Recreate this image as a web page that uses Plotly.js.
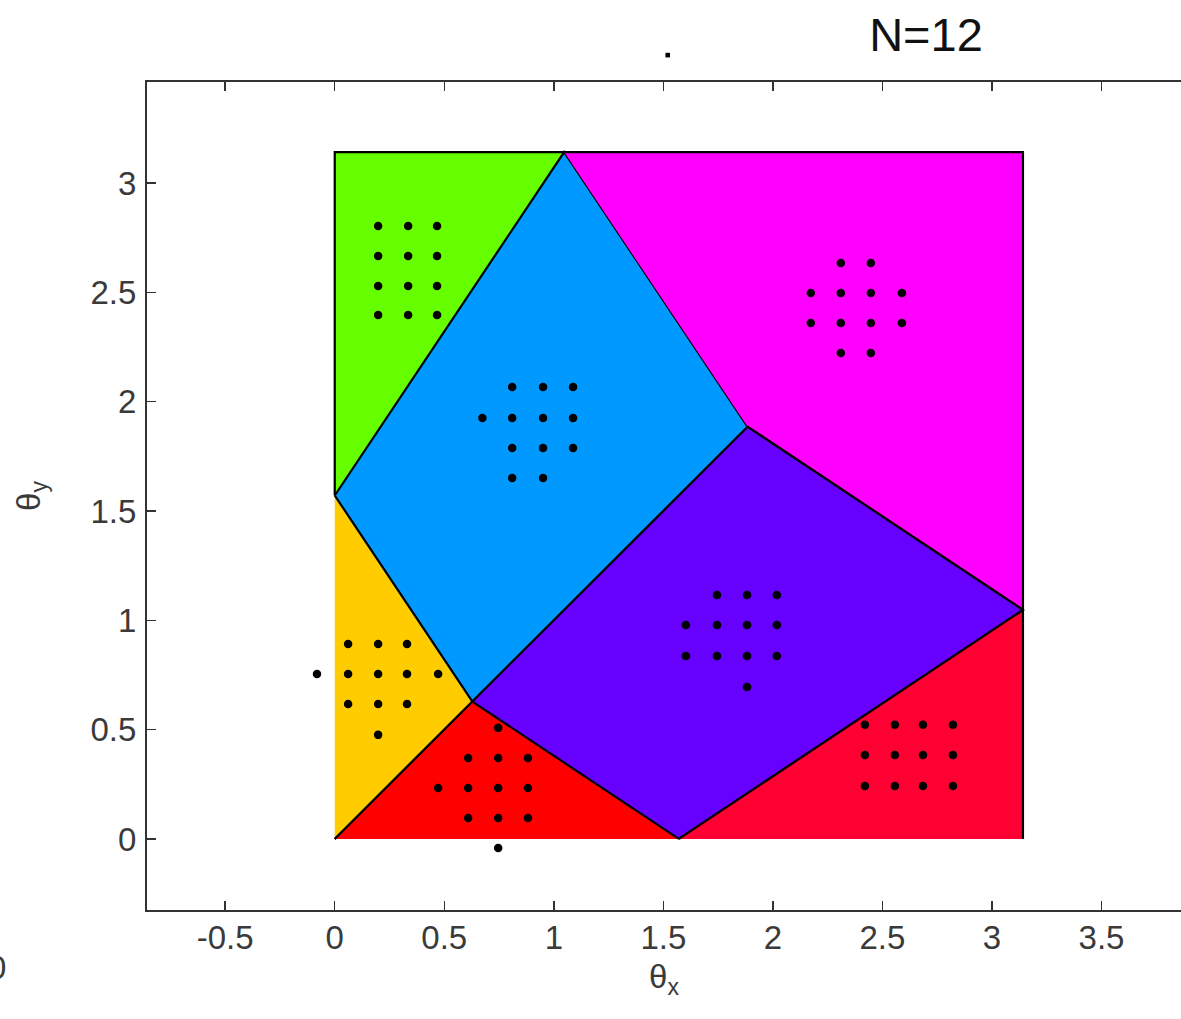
<!DOCTYPE html>
<html>
<head>
<meta charset="utf-8">
<script src="https://cdn.plot.ly/plotly-3.0.1.min.js"></script>
<style>
  html, body { margin: 0; padding: 0; background: #fff; overflow: hidden; }
  #plot { width: 1181px; height: 1019px; }
</style>
</head>
<body>
<div id="plot"></div>
<script>
const PI = Math.PI;

// Partition of the [0, pi] x [0, pi] square into regions (vertex lists)
const greenX   = [0, 0, PI / 3];
const greenY   = [PI / 2, PI, PI];
const blueX    = [0, PI / 3, 0.6 * PI, 0.2 * PI];
const blueY    = [PI / 2, PI, 0.6 * PI, 0.2 * PI];
const magentaX = [PI / 3, PI, PI, 0.6 * PI];
const magentaY = [PI, PI, PI / 3, 0.6 * PI];
const purpleX  = [0.2 * PI, 0.6 * PI, PI, PI / 2];
const purpleY  = [0.2 * PI, 0.6 * PI, PI / 3, 0];
const yellowX  = [0, 0.2 * PI, 0];
const yellowY  = [PI / 2, 0.2 * PI, 0];
const redX     = [0, 0.2 * PI, PI / 2];
const redY     = [0, 0.2 * PI, 0];
const crimsonX = [PI / 2, PI, PI];
const crimsonY = [0, PI / 3, 0];

// Sample points
const greenPtsX = [0.198, 0.335, 0.467, 0.198, 0.335, 0.467, 0.198, 0.335, 0.467, 0.198, 0.335, 0.467];
const greenPtsY = [2.803, 2.803, 2.803, 2.666, 2.666, 2.666, 2.529, 2.529, 2.529, 2.396, 2.396, 2.396];

const bluePtsX = [0.810, 0.951, 1.088, 0.674, 0.810, 0.951, 1.088, 0.810, 0.951, 1.088, 0.810, 0.951];
const bluePtsY = [2.067, 2.067, 2.067, 1.925, 1.925, 1.925, 1.925, 1.788, 1.788, 1.788, 1.651, 1.651];

const magPtsX = [2.310, 2.447, 2.173, 2.310, 2.447, 2.589, 2.173, 2.310, 2.447, 2.589, 2.310, 2.447];
const magPtsY = [2.634, 2.634, 2.497, 2.497, 2.497, 2.497, 2.360, 2.360, 2.360, 2.360, 2.223, 2.223];

const purPtsX = [1.745, 1.882, 2.018, 1.603, 1.745, 1.882, 2.018, 1.603, 1.745, 1.882, 2.018, 1.882];
const purPtsY = [1.116, 1.116, 1.116, 0.979, 0.979, 0.979, 0.979, 0.837, 0.837, 0.837, 0.837, 0.695];

const yelPtsX = [0.061, 0.198, 0.330, -0.081, 0.061, 0.198, 0.330, 0.472, 0.061, 0.198, 0.330, 0.198];
const yelPtsY = [0.892, 0.892, 0.892, 0.754, 0.754, 0.754, 0.754, 0.754, 0.617, 0.617, 0.617, 0.476];

const redPtsX = [0.746, 0.609, 0.746, 0.882, 0.472, 0.609, 0.746, 0.882, 0.609, 0.746, 0.882, 0.746];
const redPtsY = [0.508, 0.370, 0.370, 0.370, 0.233, 0.233, 0.233, 0.233, 0.096, 0.096, 0.096, -0.041];

const crimPtsX = [2.420, 2.557, 2.685, 2.822, 2.420, 2.557, 2.685, 2.822, 2.420, 2.557, 2.685, 2.822];
const crimPtsY = [0.522, 0.522, 0.522, 0.522, 0.384, 0.384, 0.384, 0.384, 0.242, 0.242, 0.242, 0.242];

// Lone point above the axes box
const strayX = 1.52;
const strayY = 3.585;

// Axis ranges and ticks
const xRange = [-0.857, 3.863];
const yRange = [-0.325, 3.462];
const tickValsX = [-0.5, 0, 0.5, 1, 1.5, 2, 2.5, 3, 3.5];
const tickTextX = ['-0.5', '0', '0.5', '1', '1.5', '2', '2.5', '3', '3.5'];
const tickValsY = [0, 0.5, 1, 1.5, 2, 2.5, 3];
const tickTextY = ['0', '0.5', '1', '1.5', '2', '2.5', '3'];

const FONT = 'Liberation Sans, Arial, Helvetica, sans-serif';

function region(xs, ys, color) {
  return {
    type: 'scatter', mode: 'lines', x: xs, y: ys,
    fill: 'toself', fillcolor: color,
    line: { color: '#000', width: 2.2 },
    hoverinfo: 'skip', showlegend: false
  };
}
function dots(xs, ys) {
  return {
    type: 'scatter', mode: 'markers', x: xs, y: ys,
    marker: { color: '#000', size: 8.5 },
    cliponaxis: false, hoverinfo: 'skip', showlegend: false
  };
}

const data = [
  region(greenX, greenY, '#66ff00'),
  region(blueX, blueY, '#0099ff'),
  region(magentaX, magentaY, '#ff00ff'),
  region(purpleX, purpleY, '#6600ff'),
  region(yellowX, yellowY, '#ffcc00'),
  region(redX, redY, '#ff0000'),
  region(crimsonX, crimsonY, '#ff0033'),
  dots(greenPtsX, greenPtsY),
  dots(bluePtsX, bluePtsY),
  dots(magPtsX, magPtsY),
  dots(purPtsX, purPtsY),
  dots(yelPtsX, yelPtsY),
  dots(redPtsX, redPtsY),
  dots(crimPtsX, crimPtsY)
];

const layout = {
  width: 1181, height: 1019,
  paper_bgcolor: '#fff', plot_bgcolor: '#fff',
  margin: { l: 147, r: 0, t: 82, b: 109, pad: 0 },
  font: { family: FONT, color: '#3a3a3a' },
  title: {
    text: 'N=12',
    font: { family: FONT, size: 47, color: '#111' },
    x: 926 / 1181, xanchor: 'center', xref: 'container',
    y: 1 - 35 / 1019, yanchor: 'middle', yref: 'container'
  },
  xaxis: {
    range: xRange,
    tickvals: tickValsX, ticktext: tickTextX,
    ticks: 'inside', ticklen: 9, tickwidth: 1.5, tickcolor: '#333',
    showline: true, linecolor: '#333', linewidth: 2, mirror: 'ticks',
    showgrid: false, zeroline: false,
    tickfont: { family: FONT, size: 33, color: '#3a3a3a' },
    ticklabelstandoff: -3,
    title: { text: 'θ<sub>x</sub>', font: { family: FONT, size: 33, color: '#3a3a3a' }, standoff: 10 }
  },
  yaxis: {
    range: yRange,
    tickvals: tickValsY, ticktext: tickTextY,
    ticks: 'inside', ticklen: 9, tickwidth: 1.5, tickcolor: '#333',
    showline: true, linecolor: '#333', linewidth: 2, mirror: false,
    showgrid: false, zeroline: false,
    tickfont: { family: FONT, size: 33, color: '#3a3a3a' },
    ticklabelstandoff: 2,
    title: { text: 'θ<sub>y</sub>', font: { family: FONT, size: 33, color: '#3a3a3a' }, standoff: 40 }
  },
  shapes: [
    {
      // lone point outside the axes range, placed in paper units
      type: 'rect', xref: 'paper', yref: 'paper',
      x0: (strayX - xRange[0]) / (xRange[1] - xRange[0]) - 0.0022,
      x1: (strayX - xRange[0]) / (xRange[1] - xRange[0]) + 0.0022,
      y0: (strayY - yRange[0]) / (yRange[1] - yRange[0]) - 0.0028,
      y1: (strayY - yRange[0]) / (yRange[1] - yRange[0]) + 0.0028,
      fillcolor: '#000', line: { width: 0 }
    }
  ],
  annotations: [
    {
      text: '0', xref: 'paper', yref: 'paper',
      x: (8 - 147) / 1034, y: (910 - 967) / 828,
      xanchor: 'right', yanchor: 'middle', showarrow: false,
      font: { family: FONT, size: 33, color: '#3a3a3a' }
    }
  ],
  showlegend: false
};

Plotly.newPlot('plot', data, layout, { displayModeBar: false, staticPlot: true });
</script>
</body>
</html>
